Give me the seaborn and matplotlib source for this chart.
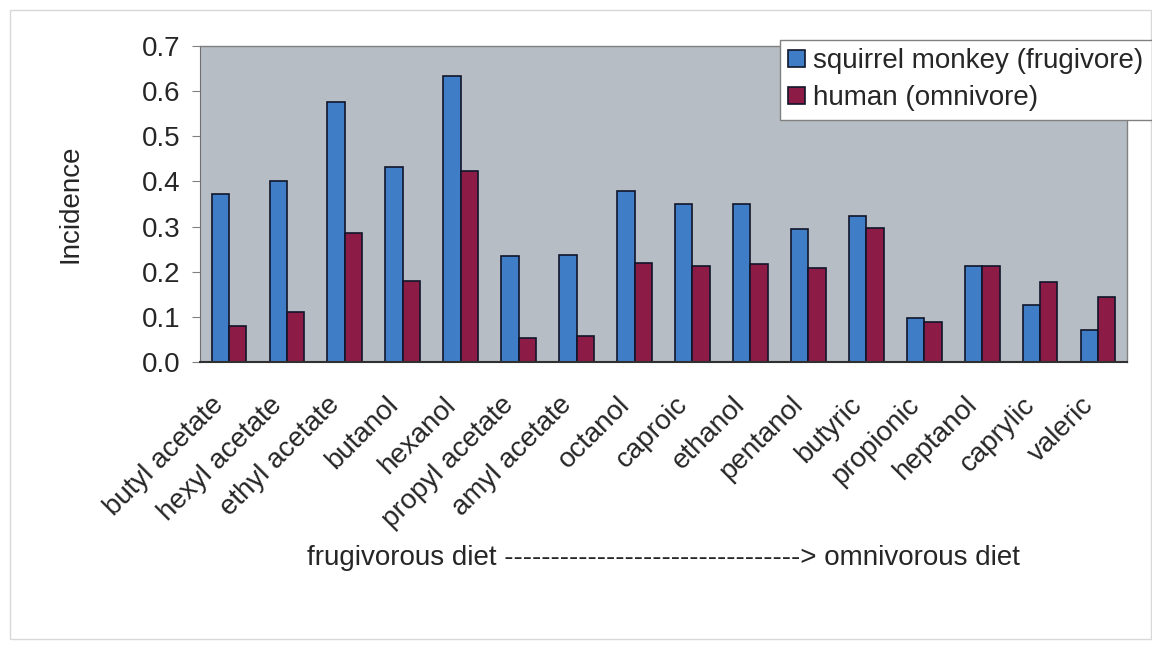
import pandas as pd
import matplotlib
matplotlib.use("Agg")
import matplotlib.pyplot as plt
import matplotlib.transforms as mtransforms
import seaborn as sns

# odorants, ordered from frugivorous to omnivorous diet
odorants = ["butyl acetate", "hexyl acetate", "ethyl acetate", "butanol", "hexanol",
            "propyl acetate", "amyl acetate", "octanol", "caproic", "ethanol",
            "pentanol", "butyric", "propionic", "heptanol", "caprylic", "valeric"]
monkey = [0.372, 0.402, 0.575, 0.432, 0.633, 0.235, 0.236, 0.378, 0.350, 0.350,
          0.295, 0.323, 0.097, 0.213, 0.127, 0.070]
human = [0.080, 0.110, 0.285, 0.180, 0.422, 0.054, 0.058, 0.220, 0.212, 0.218,
         0.208, 0.297, 0.088, 0.213, 0.178, 0.143]
series = ["squirrel monkey (frugivore)", "human (omnivore)"]
y_ticks = [0.0, 0.1, 0.2, 0.3, 0.4, 0.5, 0.6, 0.7]

df = pd.DataFrame({
    "odorant": odorants * 2,
    "incidence": monkey + human,
    "species": [series[0]] * len(odorants) + [series[1]] * len(odorants),
})

sns.set_style("white")
plt.rcParams["font.family"] = ["Liberation Sans", "DejaVu Sans"]
FS = 20

fig = plt.figure(figsize=(11.52, 6.45), dpi=100)
ax = fig.add_axes([0.1736, 0.4388, 0.8047, 0.4899])
ax.set_facecolor("#b7bdc4")

sns.barplot(data=df, x="odorant", y="incidence", hue="species", order=odorants,
            hue_order=series, palette=["#3f7ec6", "#8c1b45"], width=0.6,
            edgecolor="#10162a", linewidth=1.2, saturation=1, ax=ax)

ax.set_xlim(-0.5, len(odorants) - 0.5)
ax.set_ylim(0, 0.7)
ax.set_yticks(y_ticks)
ax.set_yticklabels([f"{v:.1f}" for v in y_ticks], fontsize=FS)
ax.set_ylabel("Incidence", fontsize=FS, labelpad=42)
ax.set_xlabel("")

# category labels centred, tick marks on category boundaries
ax.set_xticks(range(len(odorants)))
ax.set_xticklabels(odorants, rotation=45, ha="right", rotation_mode="anchor", fontsize=FS)
ax.tick_params(axis="x", length=0, pad=10)
shift = mtransforms.ScaledTranslation(-18 / 100, -16 / 100, fig.dpi_scale_trans)
for lbl in ax.get_xticklabels():
    lbl.set_transform(lbl.get_transform() + shift)
ax.set_xticks([i - 0.5 for i in range(len(odorants) + 1)], minor=True)
ax.tick_params(axis="x", which="minor", length=6, color="#808080", direction="out")
ax.tick_params(axis="y", length=6, color="#808080", direction="out", left=True, pad=8)

for side in ["top", "right"]:
    ax.spines[side].set_color("#808080")
    ax.spines[side].set_linewidth(1)
ax.spines["left"].set_color("#707070")
ax.spines["bottom"].set_color("#303030")
ax.spines["bottom"].set_linewidth(1.5)

handles, labels = ax.get_legend_handles_labels()
ax.legend_.remove()
leg = fig.legend(handles, labels, loc="upper left", bbox_to_anchor=(780 / 1152, 1 - 40 / 645),
                 fontsize=FS, frameon=True, fancybox=False, edgecolor="#808080",
                 framealpha=1, handlelength=0.6, handleheight=0.6, handletextpad=0.3,
                 borderpad=0.3, labelspacing=0.4, borderaxespad=0)
leg.get_frame().set_linewidth(1)

fig.text(0.576, 0.135, "frugivorous diet " + "-" * 32 + "> omnivorous diet",
         ha="center", va="center", fontsize=FS)

# faint outer chart frame
fig.patches.append(plt.Rectangle((0.009, 0.01), 0.99, 0.975, transform=fig.transFigure,
                                 fill=False, edgecolor="#d8d8d8", linewidth=1))

fig.savefig("out.png", dpi=100, facecolor="white")
